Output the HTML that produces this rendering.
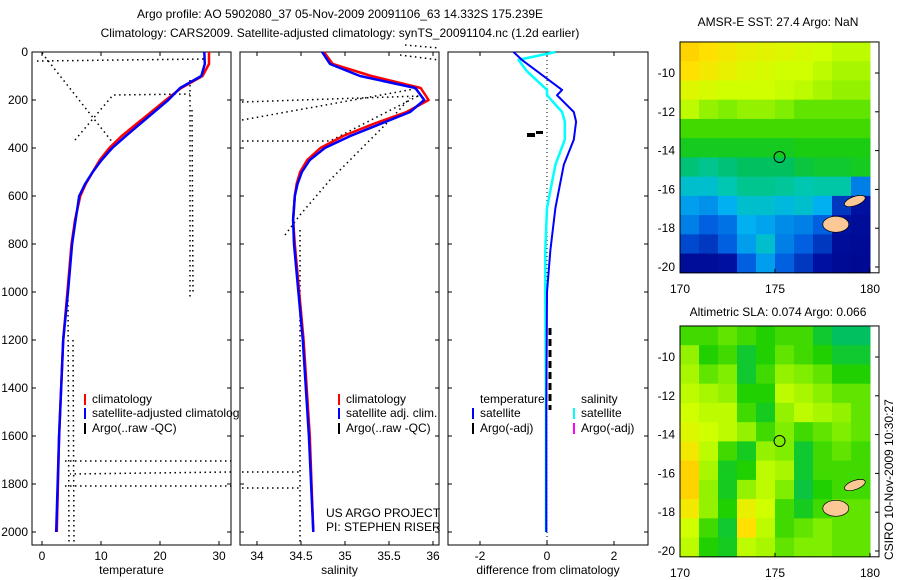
<!DOCTYPE html>
<html><head><meta charset="utf-8">
<style>
html,body{margin:0;background:#fff;overflow:hidden;width:900px;height:580px;}
svg{display:block;font-family:"Liberation Sans",sans-serif;}
text{font-size:12px;fill:#000;}
</style></head>
<body>
<svg id="fig" width="900" height="580" viewBox="0 0 900 580">
<rect width="900" height="580" fill="#fff"/>
<text x="340" y="18" text-anchor="middle">Argo profile: AO 5902080_37 05-Nov-2009 20091106_63 14.332S 175.239E</text>
<text x="340" y="37" text-anchor="middle">Climatology: CARS2009. Satellite-adjusted climatology: synTS_20091104.nc (1.2d earlier)</text>
<g id="plots"></g>
</svg>
<script>
// ---------- data ----------
const depths = [0,50,100,150,200,250,300,350,400,450,500,550,600,700,800,1000,1200,1600,2000];
const tempClim = [28.3,28.3,27.2,23.6,21.0,18.5,16.0,13.5,11.4,9.8,8.6,7.4,6.5,5.6,5.0,4.3,3.6,2.9,2.5];
const tempSat  = [27.5,27.6,27.0,23.4,21.4,19.0,16.6,14.2,11.9,10.1,8.6,7.3,6.3,5.7,5.1,4.4,3.6,2.9,2.4];
const salClim  = [34.76,34.86,35.3,35.86,35.95,35.7,35.32,34.98,34.72,34.57,34.49,34.45,34.43,34.41,34.43,34.48,34.53,34.6,34.64];
const salSat   = [34.74,34.83,35.17,35.8,35.9,35.74,35.4,35.06,34.77,34.6,34.51,34.46,34.43,34.41,34.42,34.47,34.52,34.59,34.64];
const diffDepths = [0,33,80,158,180,250,290,365,470,650,825,1000,1500,2000];
const diffTemp = [-1.0,-0.75,-0.3,0.45,0.3,0.8,0.87,0.8,0.5,0.25,0.1,0.0,-0.02,-0.02];
const diffSal  = [0.25,-0.85,-0.6,0.0,0.0,0.45,0.53,0.53,0.25,0.0,-0.05,-0.05,-0.03,-0.03];
const tempTicks = [0,10,20,30];
const salTicks = [34,34.5,35,35.5,36];
const diffTicks = [-2,0,2];
const depthTicks = [0,200,400,600,800,1000,1200,1400,1600,1800,2000];
const sstGrid = [
[.82,.8,.78,.76,.75,.74,.73,.72,.7,.7],
[.8,.78,.76,.74,.73,.72,.72,.7,.68,.68],
[.74,.73,.72,.72,.72,.71,.7,.68,.66,.66],
[.7,.66,.64,.66,.66,.64,.62,.62,.62,.62],
[.6,.6,.6,.6,.6,.6,.6,.6,.6,.6],
[.56,.56,.56,.56,.56,.56,.57,.57,.57,.57],
[.5,.48,.5,.52,.52,.52,.54,.55,.55,.56],
[.42,.42,.45,.48,.48,.47,.45,.46,.46,.3],
[.35,.33,.38,.42,.42,.4,.42,.38,.2,.15],
[.3,.25,.28,.38,.36,.32,.3,.25,.15,.12],
[.22,.2,.25,.35,.42,.3,.25,.2,.12,.1],
[.12,.12,.15,.25,.35,.25,.2,.15,.1,.08]];
const slaGrid = [
[.6,.6,.62,.6,.58,.6,.6,.55,.52,.52],
[.66,.58,.6,.55,.58,.62,.6,.58,.55,.55],
[.68,.62,.64,.55,.6,.66,.64,.62,.58,.58],
[.7,.68,.66,.58,.58,.7,.68,.65,.62,.62],
[.72,.7,.7,.6,.56,.66,.7,.68,.66,.62],
[.74,.72,.7,.66,.6,.64,.6,.62,.64,.62],
[.78,.7,.6,.56,.66,.64,.55,.6,.62,.6],
[.82,.68,.56,.58,.7,.68,.55,.6,.6,.6],
[.82,.66,.56,.66,.7,.64,.54,.58,.6,.6],
[.78,.66,.58,.76,.72,.6,.56,.6,.62,.62],
[.72,.6,.55,.8,.7,.6,.62,.64,.62,.62],
[.7,.58,.56,.7,.68,.62,.64,.64,.62,.62]];
const lonTicks = [170,175,180];
const latTicks = [-10,-12,-14,-16,-18,-20];
const argoLon = 175.239, argoLat = -14.332;

// ---------- helpers ----------
const NS='http://www.w3.org/2000/svg';
const root=document.getElementById('plots');
function mk(tag,attrs,parent){const e=document.createElementNS(NS,tag);for(const k in attrs)e.setAttribute(k,attrs[k]);(parent||root).appendChild(e);return e;}
const yD = d => 52 + d*0.24;
const xT = v => 42 + v*5.9;
const xS = v => 257 + (v-34)*88;
const xDf = v => 547 + v*33.5;

function panel(name,x0,x1,ticks,xf,label){
  const g=mk('g',{});
  
  
  mk('rect',{x:x0,y:52,width:x1-x0,height:493,fill:'#fff',stroke:'#000','stroke-width':1},g);
  ticks.forEach(t=>{const x=xf(t);
    mk('line',{x1:x,x2:x,y1:545,y2:541,stroke:'#000'},g);
    mk('line',{x1:x,x2:x,y1:52,y2:56,stroke:'#000'},g);
    const tx=mk('text',{x:x,y:560,'text-anchor':'middle'},g);tx.textContent=t;
    
    });
  depthTicks.forEach(d=>{mk('line',{x1:x0,x2:x0+4,y1:yD(d),y2:yD(d),stroke:'#000'},g);mk('line',{x1:x1,x2:x1-4,y1:yD(d),y2:yD(d),stroke:'#000'},g);});
  const lb=mk('text',{x:(x0+x1)/2,y:574,'text-anchor':'middle'},g);lb.textContent=label;
  
  
  return g;
}
function line(g,xs,ds,xf,color,w,name){
  const pts=xs.map((v,i)=>xf(v).toFixed(1)+','+yD(ds[i]).toFixed(1)).join(' ');
  const p=mk('polyline',{points:pts,fill:'none',stroke:color,'stroke-width':w,'stroke-linejoin':'round'},g);
  
  
}
function dotted(g,pts){mk('polyline',{points:pts,fill:'none',stroke:'#000','stroke-width':1.5,'stroke-dasharray':'1.5,3.5'},g);}
function legend(g,x,y,color,txt){
  mk('rect',{x:x,y:y-9,width:2,height:11,fill:color},g);
  const t=mk('text',{x:x+8,y:y},g);t.textContent=txt;
  
  
}

depthTicks.forEach(d=>{const t=mk('text',{x:28,y:yD(d)+4,'text-anchor':'end'});t.textContent=d;
  
  });

// Panel 1 temperature
const g1=panel('temperature-panel',32,231,tempTicks,xT,'temperature');
dotted(g1,'37,61 205,59');dotted(g1,'42,53 113,143');dotted(g1,'75,140 113,95 190,94');
dotted(g1,'190,80 190,300');dotted(g1,'192,110 193,295');
dotted(g1,'68,300 69,545');dotted(g1,'73,340 74,545');
dotted(g1,'65,461 231,461');dotted(g1,'231,472 70,474');dotted(g1,'65,486 231,486');
line(g1,tempClim,depths,xT,'#f00',2.5,'temperature-climatology-line');
line(g1,tempSat,depths,xT,'#00f',2.5,'temperature-satellite-line');
legend(g1,84,403,'#f00','climatology');legend(g1,84,417,'#00f','satellite-adjusted climatology');legend(g1,84,432,'#000','Argo(..raw -QC)');

// Panel 2 salinity
const g2=panel('salinity-panel',240,439,salTicks,xS,'salinity');
dotted(g2,'242,102 420,96');dotted(g2,'242,120 420,88');dotted(g2,'242,141 330,141 420,95');
dotted(g2,'285,235 300,215 330,180 390,120 410,98');
dotted(g2,'300,230 300,545');
dotted(g2,'242,472 300,472');dotted(g2,'242,488 300,488');
dotted(g2,'400,55 439,60');dotted(g2,'405,45 439,48');
line(g2,salClim,depths,xS,'#f00',2.5,'salinity-climatology-line');
line(g2,salSat,depths,xS,'#00f',2.5,'salinity-satellite-line');
legend(g2,338,403,'#f00','climatology');legend(g2,338,417,'#00f','satellite adj. clim.');legend(g2,338,432,'#000','Argo(..raw -QC)');
const us=mk('text',{x:326,y:517},g2);us.textContent='US ARGO PROJECT';


const pi=mk('text',{x:326,y:531},g2);pi.textContent='PI: STEPHEN RISER';



// Panel 3 difference
const g3=panel('difference-panel',448,648,diffTicks,xDf,'difference from climatology');
mk('line',{x1:xDf(0),x2:xDf(0),y1:52,y2:545,stroke:'#000','stroke-dasharray':'1,3'},g3);
line(g3,diffSal,diffDepths,xDf,'#0ff',2.5,'salinity-difference-line');
line(g3,diffTemp,diffDepths,xDf,'#00f',2,'temperature-difference-line');
mk('rect',{x:527,y:133,width:8,height:4,fill:'#000'},g3);mk('rect',{x:536,y:131,width:7,height:3,fill:'#000'},g3);
mk('line',{x1:550,x2:550,y1:328,y2:410,stroke:'#000','stroke-width':3,'stroke-dasharray':'7,4'},g3);
legend(g3,472,403,'transparent','temperature');legend(g3,573,403,'transparent','salinity');
legend(g3,472,417,'#00f','satellite');legend(g3,573,417,'#0ff','satellite');
legend(g3,472,432,'#000','Argo(-adj)');legend(g3,573,432,'#f0f','Argo(-adj)');

// maps
const cstops=[[0,[0,0,127]],[.15,[0,16,160]],[.25,[0,96,224]],[.38,[0,176,240]],[.45,[0,200,176]],[.52,[0,192,96]],[.58,[32,208,0]],[.64,[128,238,0]],[.72,[208,255,0]],[.8,[255,224,0]],[.9,[255,160,0]],[1,[255,100,0]]];
function cmap(v){for(let i=1;i<cstops.length;i++){if(v<=cstops[i][0]){const [a,ca]=cstops[i-1],[b,cb]=cstops[i];const t=(v-a)/(b-a);return 'rgb('+ca.map((c,k)=>Math.round(c+(cb[k]-c)*t)).join(',')+')';}}return 'rgb(255,100,0)';}
function map(name,y10,titleY,grid,title){
  const g=mk('g',{});
  
  
  const xL=lon=>680+(lon-170)*19.0, yL=lat=>y10-(lat+10)*19.4;
  const latTop=-8.4, latBot=-20.3;
  const rows=grid.length, cols=grid[0].length;
  const ch=(yL(latBot)-yL(latTop))/rows, cw=(xL(180)-xL(170))/cols;
  grid.forEach((row,r)=>row.forEach((v,c)=>{
    const cell=mk('rect',{x:xL(170)+c*cw,y:yL(latTop)+r*ch,width:cw+0.5,height:ch+0.5,fill:cmap(v)},g);
    
    
  }));
  mk('rect',{x:680,y:yL(latTop),width:199,height:yL(latBot)-yL(latTop),fill:'none',stroke:'#000'},g);
  mk('ellipse',{cx:xL(178.2),cy:yL(-17.8),rx:13,ry:8,fill:'#fbc896',stroke:'#000','stroke-width':0.7},g);
  mk('ellipse',{cx:xL(179.2),cy:yL(-16.6),rx:11,ry:4.5,fill:'#fbc896',stroke:'#000','stroke-width':0.7,transform:'rotate(-20 '+xL(179.2)+' '+yL(-16.6)+')'},g);
  const c=mk('circle',{cx:xL(argoLon),cy:yL(argoLat),r:5.5,fill:'none',stroke:'#000'},g);
  
  
  lonTicks.forEach(l=>{const t=mk('text',{x:xL(l),y:yL(latBot)+20,'text-anchor':'middle'},g);t.textContent=l;
    mk('line',{x1:xL(l),x2:xL(l),y1:yL(latBot),y2:yL(latBot)-4,stroke:'#000'},g);});
  latTicks.forEach(l=>{const t=mk('text',{x:675,y:yL(l)+4,'text-anchor':'end'},g);t.textContent=l;
    mk('line',{x1:879,x2:875,y1:yL(l),y2:yL(l),stroke:'#000'},g);});
  const tt=mk('text',{x:778,y:titleY,'text-anchor':'middle'},g);tt.textContent=title;
  
  
}
map('sst-map',73,26,sstGrid,'AMSR-E SST: 27.4 Argo: NaN');
map('sla-map',357,316,slaGrid,'Altimetric SLA: 0.074 Argo: 0.066');
const st=mk('text',{x:0,y:0,transform:'translate(893,560) rotate(-90)'});st.textContent='CSIRO 10-Nov-2009 10:30:27';


</script>
</body></html>
